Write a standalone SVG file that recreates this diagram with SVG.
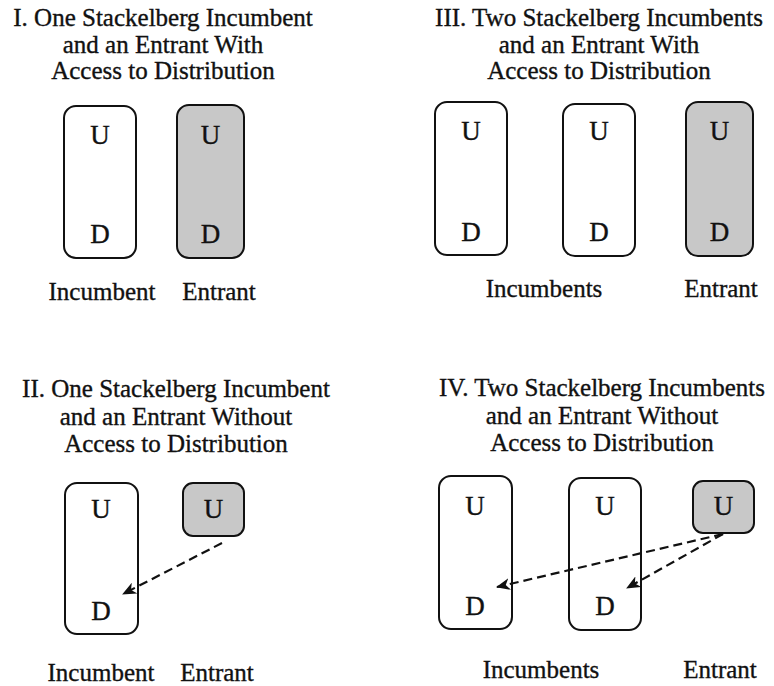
<svg xmlns="http://www.w3.org/2000/svg" width="774" height="686" viewBox="0 0 774 686">
<style>
text{font-family:"Liberation Serif","Times New Roman",serif;fill:#111;text-anchor:middle;stroke:#111;stroke-width:0.35}
.t{font-size:25px}
.l{font-size:25px}
.k{font-size:27px}
.box{fill:#fff;stroke:#111;stroke-width:2}
.ent{fill:#c8c8c8;stroke:#111;stroke-width:2}
.arr{fill:none;stroke:#111;stroke-width:2.2;stroke-dasharray:9 5;marker-end:url(#ah)}
</style>
<defs>
<marker id="ah" viewBox="0 0 14 12" refX="13" refY="6" markerWidth="14" markerHeight="12" orient="auto" markerUnits="userSpaceOnUse">
<path d="M0,0 L14,6 L0,12 L4,6 Z" fill="#111"/>
</marker>
</defs>
<rect width="774" height="686" fill="#fff"/>

<g id="title-I">
<text class="t" x="163" y="26">I. One Stackelberg Incumbent</text>
<text class="t" x="163" y="53">and an Entrant With</text>
<text class="t" x="163" y="79">Access to Distribution</text>
</g>
<g id="I-incumbent">
<rect class="box" x="64" y="106" width="72" height="152" rx="12"/>
<text class="k" x="100" y="144">U</text>
<text class="k" x="100" y="243">D</text>
<text class="l" x="102" y="300">Incumbent</text>
</g>
<g id="I-entrant">
<rect class="ent" x="177" y="105" width="67" height="153" rx="12"/>
<text class="k" x="210.5" y="144">U</text>
<text class="k" x="210.5" y="243">D</text>
<text class="l" x="219" y="300">Entrant</text>
</g>

<g id="title-III">
<text class="t" x="599" y="26">III. Two Stackelberg Incumbents</text>
<text class="t" x="599" y="53">and an Entrant With</text>
<text class="t" x="599" y="79">Access to Distribution</text>
</g>
<g id="III-incumbent1">
<rect class="box" x="435" y="102" width="72" height="153" rx="12"/>
<text class="k" x="471" y="140">U</text>
<text class="k" x="471" y="241">D</text>
</g>
<g id="III-incumbent2">
<rect class="box" x="563" y="104" width="72" height="152" rx="12"/>
<text class="k" x="599" y="140">U</text>
<text class="k" x="599" y="241">D</text>
</g>
<g id="III-entrant">
<rect class="ent" x="686" y="102" width="67" height="154" rx="12"/>
<text class="k" x="719.5" y="140">U</text>
<text class="k" x="719.5" y="241">D</text>
</g>
<text class="l" x="544" y="297">Incumbents</text>
<text class="l" x="721" y="297">Entrant</text>

<g id="title-II">
<text class="t" x="176" y="397">II. One Stackelberg Incumbent</text>
<text class="t" x="176" y="425">and an Entrant Without</text>
<text class="t" x="176" y="452">Access to Distribution</text>
</g>
<g id="II-incumbent">
<rect class="box" x="65" y="483" width="73" height="151" rx="12"/>
<text class="k" x="101" y="518">U</text>
<text class="k" x="101" y="620">D</text>
<text class="l" x="101" y="681">Incumbent</text>
</g>
<g id="II-entrant">
<rect class="ent" x="183" y="483" width="61" height="53" rx="10"/>
<text class="k" x="213.5" y="518">U</text>
<text class="l" x="217" y="681">Entrant</text>
</g>

<g id="title-IV">
<text class="t" x="602" y="396">IV. Two Stackelberg Incumbents</text>
<text class="t" x="602" y="424">and an Entrant Without</text>
<text class="t" x="602" y="451">Access to Distribution</text>
</g>
<g id="IV-incumbent1">
<rect class="box" x="439" y="476" width="73" height="153" rx="12"/>
<text class="k" x="475" y="515">U</text>
<text class="k" x="475" y="615">D</text>
</g>
<g id="IV-incumbent2">
<rect class="box" x="569" y="478" width="72" height="152" rx="12"/>
<text class="k" x="605" y="515">U</text>
<text class="k" x="605" y="615">D</text>
</g>
<g id="IV-entrant">
<rect class="ent" x="693" y="481" width="61" height="52" rx="10"/>
<text class="k" x="723.5" y="515">U</text>
</g>
<text class="l" x="541" y="678">Incumbents</text>
<text class="l" x="720" y="678">Entrant</text>

<g id="connectors">
<line class="arr" x1="222" y1="543" x2="123" y2="594"/>
<line class="arr" x1="723" y1="534" x2="497" y2="587"/>
<line class="arr" x1="723" y1="534" x2="627" y2="588"/>
</g>
</svg>
